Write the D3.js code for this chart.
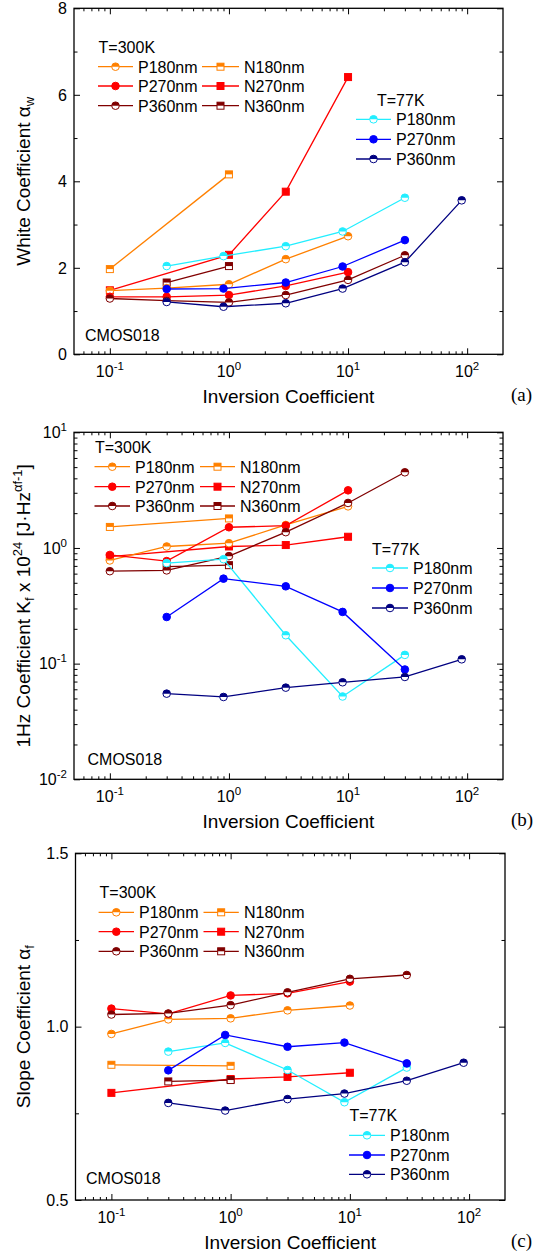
<!DOCTYPE html>
<html><head><meta charset="utf-8">
<script src="https://cdn.jsdelivr.net/npm/d3@7"></script>
<style>body{margin:0;background:#fff}svg{display:block}text{font-family:"Liberation Sans",Arial,sans-serif;fill:#000}</style>
</head><body><script>
// ---------- DATA ----------
// inversion coefficient (x) per series
const icP180_300 = [0.1, 0.3, 1, 3, 10];
const icN180_300 = [0.1, 1];
const icP270_300 = [0.1, 0.3, 1, 3, 10];
const icN270_300 = [0.1, 1, 3, 10];
const icP360_300 = [0.1, 0.3, 1, 3, 10, 30];
const icN360_300 = [0.3, 1];
const icP180_77  = [0.3, 0.9, 3, 9, 30];
const icP270_77  = [0.3, 0.9, 3, 9, 30];
const icP360_77  = [0.3, 0.9, 3, 9, 30, 90];

// (a) white coefficient alpha_w
const aw_P180_300 = [1.47, 1.53, 1.62, 2.20, 2.73];
const aw_N180_300 = [1.97, 4.16];
const aw_P270_300 = [1.33, 1.33, 1.37, 1.58, 1.90];
const aw_N270_300 = [1.48, 2.30, 3.76, 6.41];
const aw_P360_300 = [1.29, 1.24, 1.20, 1.37, 1.72, 2.29];
const aw_N360_300 = [1.66, 2.04];
const aw_P180_77  = [2.04, 2.27, 2.50, 2.84, 3.62];
const aw_P270_77  = [1.51, 1.52, 1.66, 2.03, 2.64];
const aw_P360_77  = [1.21, 1.10, 1.18, 1.52, 2.13, 3.56];

// (b) 1Hz coefficient Kf x 1e24
const kf_P180_300 = [0.78, 1.03, 1.10, 1.58, 2.29];
const kf_N180_300 = [1.52, 1.80];
const kf_P270_300 = [0.87, 0.77, 1.51, 1.56, 3.15];
const kf_N270_300 = [0.84, 1.03, 1.06, 1.25];
const kf_P360_300 = [0.63, 0.64, 0.85, 1.37, 2.45, 4.51];
const kf_N360_300 = [0.69, 0.71];
const kf_P180_77  = [0.74, 0.80, 0.176, 0.052, 0.119];
const kf_P270_77  = [0.253, 0.543, 0.466, 0.28, 0.089];
const kf_P360_77  = [0.055, 0.0515, 0.062, 0.069, 0.0767, 0.109];

// (c) slope coefficient alpha_f
const af_P180_300 = [0.979, 1.021, 1.024, 1.047, 1.061];
const af_N180_300 = [0.890, 0.887];
const af_P270_300 = [1.052, 1.037, 1.090, 1.096, 1.130];
const af_N270_300 = [0.809, 0.849, 0.855, 0.867];
const af_P360_300 = [1.035, 1.038, 1.062, 1.099, 1.138, 1.149];
const af_N360_300 = [0.842, 0.846];
const af_P180_77  = [0.928, 0.953, 0.875, 0.782, 0.882];
const af_P270_77  = [0.874, 0.976, 0.942, 0.954, 0.894];
const af_P360_77  = [0.780, 0.758, 0.791, 0.807, 0.844, 0.896];

// tick values / labels
const xMajorTicks = [0.1, 1, 10, 100];
const xMajorExp = ["-1", "0", "1", "2"];
const yTicksA = [0, 2, 4, 6, 8];
const yMinorA = [1, 3, 5, 7];
const yTicksB = [0.01, 0.1, 1, 10];
const yExpB = ["-2", "-1", "0", "1"];
const yTicksC = [0.5, 1.0, 1.5];
const yLabelsC = ["0.5", "1.0", "1.5"];
const yMinorC = [0.75, 1.25];

// ---------- series table (built from arrays) ----------
const C = {orange:"#ff8000", red:"#ff0000", dred:"#800000", cyan:"#22eeff", blue:"#0000ff", navy:"#000080"};
const series = [
  {name:"N180nm", col:C.orange, shape:"sq", fill:"half", ic:icN180_300, a:aw_N180_300, b:kf_N180_300, c:af_N180_300},
  {name:"N270nm", col:C.red,    shape:"sq", fill:"full", ic:icN270_300, a:aw_N270_300, b:kf_N270_300, c:af_N270_300},
  {name:"N360nm", col:C.dred,   shape:"sq", fill:"half", ic:icN360_300, a:aw_N360_300, b:kf_N360_300, c:af_N360_300},
  {name:"P180nm", col:C.orange, shape:"ci", fill:"half", ic:icP180_300, a:aw_P180_300, b:kf_P180_300, c:af_P180_300},
  {name:"P270nm", col:C.red,    shape:"ci", fill:"full", ic:icP270_300, a:aw_P270_300, b:kf_P270_300, c:af_P270_300},
  {name:"P360nm", col:C.dred,   shape:"ci", fill:"half", ic:icP360_300, a:aw_P360_300, b:kf_P360_300, c:af_P360_300},
  {name:"P180nm", col:C.cyan,   shape:"ci", fill:"half", ic:icP180_77,  a:aw_P180_77,  b:kf_P180_77,  c:af_P180_77},
  {name:"P270nm", col:C.blue,   shape:"ci", fill:"full", ic:icP270_77,  a:aw_P270_77,  b:kf_P270_77,  c:af_P270_77},
  {name:"P360nm", col:C.navy,   shape:"ci", fill:"half", ic:icP360_77,  a:aw_P360_77,  b:kf_P360_77,  c:af_P360_77}
];
const leg300 = [[3,0],[4,1],[5,2]]; // rows: [col1 series idx, col2 series idx]
const leg77 = [6,7,8];

// ---------- layout ----------
const panels = [
  {key:"a", left:74, right:503, top:8.3, bottom:354.3, type:"lin", dom:[0,8],
   t300:{x:98.6, y:52.7, rows:[66.7,86,105.7], c1:[98,133,138], c2:[202,239,244]},
   t77:{x:377, y:106, rows:[119.3,139.3,159], c:[356,391,396]}, cmos:[85,340.7], tag:"(a)"},
  {key:"b", left:74, right:503, top:432.3, bottom:779.3, type:"log", dom:[0.01,10],
   t300:{x:95, y:453, rows:[466.7,486.7,506], c1:[94.5,130,135], c2:[200,235,240]},
   t77:{x:372, y:555, rows:[568,588,608], c:[372,408,413]}, cmos:[87.5,765], tag:"(b)"},
  {key:"c", left:75.5, right:505, top:853.3, bottom:1200, type:"lin", dom:[0.5,1.5],
   t300:{x:99.6, y:898.3, rows:[912.3,931.7,951.3], c1:[98.6,134,139], c2:[203.5,238.8,244]},
   t77:{x:349.5, y:1121, rows:[1135.3,1155,1174.3], c:[349,385,390]}, cmos:[86,1184.3], tag:"(c)"}
];

const svg = d3.select("body").append("svg").attr("width",542).attr("height",1255);
svg.append("rect").attr("width",542).attr("height",1255).attr("fill","#fff");

function marker(g, s, cx, cy){
  const r = 3.8, h = 3.5;
  if (s.shape === "ci") {
    g.append("circle").attr("cx",cx).attr("cy",cy).attr("r",r)
      .attr("fill", s.fill==="full" ? s.col : "#fff").attr("stroke",s.col).attr("stroke-width",1);
    if (s.fill==="half")
      g.append("path").attr("d",`M${cx-r},${cy}A${r},${r} 0 0 1 ${cx+r},${cy}Z`).attr("fill",s.col);
  } else {
    g.append("rect").attr("x",cx-h).attr("y",cy-h).attr("width",2*h).attr("height",2*h)
      .attr("fill", s.fill==="full" ? s.col : "#fff").attr("stroke",s.col).attr("stroke-width",1);
    if (s.fill==="half")
      g.append("rect").attr("x",cx-h).attr("y",cy-h).attr("width",2*h).attr("height",h).attr("fill",s.col);
  }
}

function legendItem(g, s, x0, x1, tx, y){
  g.append("line").attr("x1",x0).attr("x2",x1).attr("y1",y).attr("y2",y).attr("stroke",s.col).attr("stroke-width",1.3);
  marker(g, s, (x0+x1)/2, y);
  g.append("text").attr("x",tx).attr("y",y+5.8).attr("font-size",16).text(s.name);
}

function supLabel(sel, base, exp, fs, efs){
  sel.append("tspan").attr("font-size",fs).text(base);
  sel.append("tspan").attr("font-size",efs).attr("dy",-7).text(exp);
}

panels.forEach(p => {
  const g = svg.append("g");
  const x = d3.scaleLog().domain([0.05,200]).range([p.left,p.right]);
  const y = (p.type==="log" ? d3.scaleLog() : d3.scaleLinear()).domain(p.dom).range([p.bottom,p.top]);

  // minor x ticks
  const xMinor = [];
  [0.01,0.1,1,10,100].forEach(d => { for (let k=2;k<=9;k++){ const v=d*k; if (v>0.05 && v<200) xMinor.push(v);} });
  let yMinor;
  if (p.key==="a") yMinor = yMinorA;
  else if (p.key==="c") yMinor = yMinorC;
  else { yMinor=[]; [0.01,0.1,1].forEach(d=>{for(let k=2;k<=9;k++) yMinor.push(d*k);}); }
  const yMajor = p.key==="a" ? yTicksA : p.key==="b" ? yTicksB : yTicksC;

  const axes = [
    [d3.axisBottom(x).tickValues(xMajorTicks).tickSize(-6), `translate(0,${p.bottom})`],
    [d3.axisBottom(x).tickValues(xMinor).tickSize(-3), `translate(0,${p.bottom})`],
    [d3.axisTop(x).tickValues(xMajorTicks).tickSize(-6), `translate(0,${p.top})`],
    [d3.axisTop(x).tickValues(xMinor).tickSize(-3), `translate(0,${p.top})`],
    [d3.axisLeft(y).tickValues(yMajor).tickSize(-6), `translate(${p.left},0)`],
    [d3.axisLeft(y).tickValues(yMinor).tickSize(-3.5), `translate(${p.left},0)`],
    [d3.axisRight(y).tickValues(yMajor).tickSize(-6), `translate(${p.right},0)`],
    [d3.axisRight(y).tickValues(yMinor).tickSize(-3.5), `translate(${p.right},0)`]
  ];
  axes.forEach(([ax,tr]) => {
    const a = g.append("g").attr("transform",tr).call(ax.tickFormat("").tickSizeOuter(0));
    a.select(".domain").remove();
    a.selectAll(".tick line").attr("stroke","#000").attr("stroke-width",1);
  });
  g.append("rect").attr("x",p.left).attr("y",p.top).attr("width",p.right-p.left).attr("height",p.bottom-p.top)
    .attr("fill","none").attr("stroke","#000").attr("stroke-width",1.3);

  // x tick labels
  xMajorTicks.forEach((v,i) => {
    const t = g.append("text").attr("x",x(v)).attr("y",p.bottom+23).attr("text-anchor","middle");
    supLabel(t, "10", xMajorExp[i], 16, 11.5);
  });
  // y tick labels
  yMajor.forEach((v,i) => {
    const t = g.append("text").attr("x",p.left-7).attr("y",y(v)+5.8).attr("text-anchor","end");
    if (p.key==="a") t.attr("font-size",16).text(String(v));
    else if (p.key==="c") t.attr("font-size",16).text(yLabelsC[i]);
    else supLabel(t, "10", yExpB[i], 16, 11.5);
  });

  // x title
  g.append("text").attr("x",(p.left+p.right)/2).attr("y",p.bottom+49).attr("text-anchor","middle")
    .attr("font-size",19).text("Inversion Coefficient");
  // tag
  g.append("text").attr("x",511).attr("y",p.bottom+47).attr("font-size",19)
    .style("font-family","'Liberation Serif','Times New Roman',serif").text(p.tag);

  // y title
  const yt = g.append("text").attr("transform",`translate(30,${(p.top+p.bottom)/2}) rotate(-90)`)
    .attr("text-anchor","middle").attr("font-size",19);
  if (p.key==="a") {
    yt.append("tspan").text("White Coefficient \u03b1");
    yt.append("tspan").attr("font-size",13).attr("dy",4).text("w");
  } else if (p.key==="c") {
    yt.append("tspan").text("Slope Coefficient \u03b1");
    yt.append("tspan").attr("font-size",13).attr("dy",4).text("f");
  } else {
    yt.append("tspan").text("1Hz Coefficient K");
    yt.append("tspan").attr("font-size",13).attr("dy",4).text("f");
    yt.append("tspan").attr("dy",-4).text(" x 10");
    yt.append("tspan").attr("font-size",13).attr("dy",-8).text("24");
    yt.append("tspan").attr("dy",8).text(" [J\u00b7Hz");
    yt.append("tspan").attr("font-size",13).attr("dy",-8).text("\u03b1f-1");
    yt.append("tspan").attr("dy",8).text("]");
  }

  // data
  const clip = "clip"+p.key;
  g.append("clipPath").attr("id",clip).append("rect").attr("x",p.left).attr("y",p.top)
    .attr("width",p.right-p.left).attr("height",p.bottom-p.top);
  const dg = g.append("g");
  const line = d3.line().x(d=>x(d[0])).y(d=>y(d[1]));
  series.forEach(s => {
    const pts = s.ic.map((v,i)=>[v, s[p.key][i]]);
    dg.append("path").attr("d",line(pts)).attr("fill","none").attr("stroke",s.col).attr("stroke-width",1.3);
    pts.forEach(d => marker(dg, s, x(d[0]), y(d[1])));
  });

  // legends
  g.append("text").attr("x",p.t300.x).attr("y",p.t300.y).attr("font-size",16).text("T=300K");
  leg300.forEach((row,i) => {
    const yy = p.t300.rows[i];
    legendItem(g, series[row[0]], p.t300.c1[0], p.t300.c1[1], p.t300.c1[2], yy);
    legendItem(g, series[row[1]], p.t300.c2[0], p.t300.c2[1], p.t300.c2[2], yy);
  });
  g.append("text").attr("x",p.t77.x).attr("y",p.t77.y).attr("font-size",16).text("T=77K");
  leg77.forEach((si,i) => legendItem(g, series[si], p.t77.c[0], p.t77.c[1], p.t77.c[2], p.t77.rows[i]));
  g.append("text").attr("x",p.cmos[0]).attr("y",p.cmos[1]).attr("font-size",16).text("CMOS018");
});
</script></body></html>
